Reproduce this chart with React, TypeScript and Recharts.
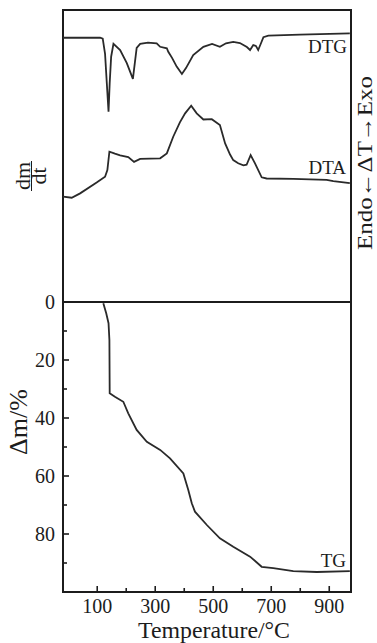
import React from "react";
import { LineChart, Line, XAxis, YAxis, ReferenceArea } from "recharts";

// temperature axis (°C)
const T_MIN = -18;
const T_MAX = 975;
const tempTicks = [100, 200, 300, 400, 500, 600, 700, 800, 900];
const lossTicks = [0, 10, 20, 30, 40, 50, 60, 70, 80, 90];

// DTG (arbitrary units, 0-100 over the upper panel)
const dtgTemp = [-18, 110, 119, 127, 133, 139, 143, 148, 156, 179, 202, 223, 236, 248, 275, 305, 317, 340, 345, 358, 374, 392, 406, 431, 466, 496, 523, 544, 569, 592, 604, 616, 627, 638, 647, 655, 665, 673, 690, 799, 971];
const dtgValue = [90.5, 90.5, 90.2, 85, 75, 65.2, 75, 84, 88.4, 86.3, 81.8, 76.4, 87.0, 88.4, 88.8, 88.6, 87.4, 86.9, 85.7, 83.6, 80.6, 78.1, 80.1, 84.6, 87.4, 88.4, 87.4, 88.6, 89.1, 88.7, 88.0, 87.3, 86.3, 88.0, 87.7, 86.3, 88.7, 90.7, 91.2, 91.6, 92.0];

// DTA (arbitrary units)
const dtaTemp = [-18, 12, 41, 98, 127, 135, 142, 161, 179, 207, 227, 248, 282, 317, 340, 362, 385, 403, 424, 443, 466, 495, 523, 541, 558, 569, 586, 604, 615, 629, 644, 667, 684, 776, 891, 914, 971];
const dtaValue = [36.1, 35.7, 37.2, 40.9, 42.9, 45.2, 51.5, 50.8, 50.2, 49.6, 48.0, 49.0, 49.1, 49.2, 50.9, 56.6, 61.5, 64.6, 67.2, 64.6, 62.5, 62.6, 60.6, 54.3, 50.5, 48.6, 47.5, 46.8, 47.0, 50.3, 47.5, 42.7, 42.3, 42.2, 41.8, 41.4, 40.7];

// TG mass loss (%)
const tgTemp = [121, 131, 139, 142, 143, 161, 190, 207, 236, 271, 317, 351, 397, 414, 426, 437, 478, 523, 569, 627, 667, 707, 776, 857, 971];
const tgLoss = [0.4, 3.9, 7.3, 13.1, 31.5, 32.7, 34.4, 38.4, 44.1, 48.2, 51.0, 53.9, 59.1, 64.8, 69.4, 72.3, 76.9, 81.5, 84.4, 87.8, 91.3, 91.8, 92.8, 93.1, 92.8];

const dtgData = dtgTemp.map((t, i) => ({ t, v: dtgValue[i] }));
const dtaData = dtaTemp.map((t, i) => ({ t, v: dtaValue[i] }));
const tgData = tgTemp.map((t, i) => ({ t, m: tgLoss[i] }));

const FONT = "'Liberation Serif', 'Times New Roman', serif";
const INK = "#1c1c1c";

const TempTick = (props: any) => {
  const { x, y, payload } = props;
  const major = payload.value % 200 === 100;
  return (
    <g>
      <line x1={x} x2={x} y1={y} y2={y - (major ? 6 : 4)} stroke={INK} strokeWidth={1.6} />
      {major && (
        <text x={x} y={y + 21} textAnchor="middle" fontFamily={FONT} fontSize={20} fill={INK}>
          {payload.value}
        </text>
      )}
    </g>
  );
};

const LossTick = (props: any) => {
  const { x, y, payload } = props;
  const major = payload.value % 20 === 0;
  return (
    <g>
      <line x1={x} x2={x + (major ? 6 : 4)} y1={y} y2={y} stroke={INK} strokeWidth={1.6} />
      {major && (
        <text x={x - 8} y={y + 7} textAnchor="end" fontFamily={FONT} fontSize={20} fill={INK}>
          {payload.value}
        </text>
      )}
    </g>
  );
};

export default function App() {
  return (
    <div style={{ position: "absolute", left: 0, top: 0, width: 377, height: 643, background: "#fff" }}>
      <div style={{ position: "absolute", left: 0, top: 0 }}>
        <LineChart width={377} height={303} margin={{ top: 10, right: 26, bottom: 1, left: 63 }}>
          <XAxis type="number" dataKey="t" domain={[T_MIN, T_MAX]} hide />
          <YAxis type="number" domain={[0, 100]} hide />
          <ReferenceArea x1={T_MIN} x2={T_MAX} y1={0} y2={100} fill="none" stroke={INK} strokeWidth={2} />
          <Line data={dtgData} dataKey="v" type="linear" stroke="#2a2a2a" strokeWidth={1.8} dot={false} isAnimationActive={false} />
          <Line data={dtaData} dataKey="v" type="linear" stroke="#2a2a2a" strokeWidth={1.8} dot={false} isAnimationActive={false} />
        </LineChart>
      </div>
      <div style={{ position: "absolute", left: 0, top: 290 }}>
        <LineChart width={377} height={353} margin={{ top: 12, right: 26, bottom: 0, left: 0 }}>
          <XAxis
            type="number"
            dataKey="t"
            domain={[T_MIN, T_MAX]}
            ticks={tempTicks}
            interval={0}
            height={51}
            tickSize={0}
            tickMargin={0}
            tickLine={false}
            axisLine={false}
            tick={<TempTick />}
          />
          <YAxis
            type="number"
            domain={[0, 100]}
            reversed
            ticks={lossTicks}
            interval={0}
            width={63}
            tickSize={0}
            tickMargin={0}
            tickLine={false}
            axisLine={false}
            tick={<LossTick />}
          />
          <ReferenceArea x1={T_MIN} x2={T_MAX} y1={0} y2={100} fill="none" stroke={INK} strokeWidth={2} />
          <Line data={tgData} dataKey="m" type="linear" stroke="#2a2a2a" strokeWidth={1.8} dot={false} isAnimationActive={false} />
        </LineChart>
      </div>
      <svg width={377} height={643} style={{ position: "absolute", left: 0, top: 0, pointerEvents: "none" }}>
        <g fontFamily={FONT} fill={INK}>
          <text x={347} y={53} textAnchor="end" fontSize={19}>DTG</text>
          <text x={346} y={174} textAnchor="end" fontSize={19}>DTA</text>
          <text x={346} y={567} textAnchor="end" fontSize={19}>TG</text>
          <text x={214} y={638} textAnchor="middle" fontSize={23} textLength={152} lengthAdjust="spacingAndGlyphs">
            Temperature/°C
          </text>
          <text x={27} y={422} textAnchor="middle" fontSize={26} transform="rotate(-90 27 422)">Δm/%</text>
          <text
            x={372}
            y={163}
            textAnchor="middle"
            fontSize={22}
            textLength={174}
            lengthAdjust="spacingAndGlyphs"
            transform="rotate(-90 372 163)"
          >
            Endo←ΔT→Exo
          </text>
          <text x={29.5} y={176} textAnchor="middle" fontSize={22} transform="rotate(-90 29.5 176)">dm</text>
          <text x={46} y={176} textAnchor="middle" fontSize={22} transform="rotate(-90 46 176)">dt</text>
          <line x1={31.5} x2={31.5} y1={161} y2={191} stroke={INK} strokeWidth={1} />
        </g>
      </svg>
    </div>
  );
}
